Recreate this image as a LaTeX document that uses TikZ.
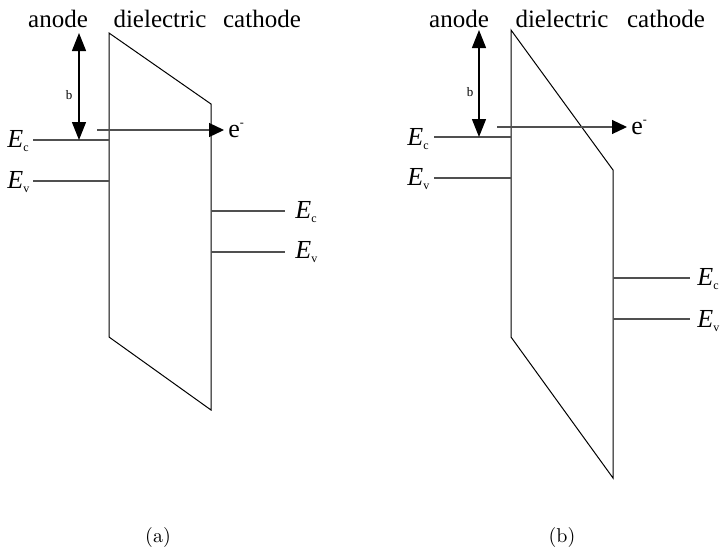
\documentclass[tikz,border=0pt]{standalone}
\usepackage{fontspec}
\usepackage{tikz}
\usetikzlibrary{arrows.meta,positioning}
\newfontfamily\timesfont{Liberation Serif}
\definecolor{levelgray}{RGB}{80,80,80}

\begin{document}
\begin{tikzpicture}[x=0.5pt, y=-0.5pt,
    head/.style={font=\timesfont\fontsize{12.5}{14}\selectfont, anchor=base},
    level/.style={line width=0.6pt, levelgray},
    band/.style={line width=0.5pt, black},
    elabel/.style={font=\timesfont\fontsize{13}{15}\selectfont, anchor=base west, inner sep=0pt},
    blabel/.style={font=\timesfont\fontsize{6.5}{7}\selectfont, inner sep=0pt},
    barrier/.style={{Triangle[length=9pt, width=7pt]}-{Triangle[length=9pt, width=7pt]}, line width=0.6pt},
    emit/.style={-{Triangle[length=7.5pt, width=7pt, color=black]}, line width=0.6pt, levelgray},
    caption/.style={font=\normalsize}
]
\useasboundingbox (0,0) rectangle (722,552);

% (a) weak field
\node[head] (anodeA) at (58,27) {anode};
\node[head] (dielA) at (160,27) {dielectric};
\node[head] (cathA) at (262,27) {cathode};

\draw[band] (109,33) coordinate (tlA) -- (211,104) coordinate (trA)
  -- (211,410) coordinate (brA) -- (109,337) coordinate (blA) -- cycle;

\coordinate (ecA) at (33,140);
\coordinate (evA) at (33,181);
\draw[level] (ecA) -- (109,140);
\draw[level] (evA) -- (109,181);
\node[elabel] (ecAl) at (7,147) {\textit{E}\raisebox{-0.35ex}{\fontsize{6}{7}\selectfont c}};
\node[elabel] (evAl) at (7,188) {\textit{E}\raisebox{-0.35ex}{\fontsize{6}{7}\selectfont v}};

\coordinate (ecAr) at (285,211);
\coordinate (evAr) at (285,252);
\draw[level] (211,211) -- (ecAr);
\draw[level] (211,252) -- (evAr);
\node[elabel] (ecArl) at (295,218) {\textit{E}\raisebox{-0.35ex}{\fontsize{6}{7}\selectfont c}};
\node[elabel] (evArl) at (295,258) {\textit{E}\raisebox{-0.35ex}{\fontsize{6}{7}\selectfont v}};

\coordinate (btopA) at (79,33);
\coordinate (bbotA) at (79,140);
\draw[barrier] (btopA) -- (bbotA);
\node[blabel] (bA) at (69,95) {b};

\coordinate (eStartA) at (97,130);
\node[elabel] (eA) at (228,137) {e\raisebox{0.9ex}{\fontsize{6}{7}\selectfont -}};
\draw[emit] (eStartA) -- ([xshift=-2pt]eA.west |- eStartA);

\node[caption] (capA) at (158,537) {(a)};

% (b) strong field
\node[head] (anodeB) at (459,27) {anode};
\node[head] (dielB) at (562,27) {dielectric};
\node[head] (cathB) at (666,27) {cathode};

\draw[band] (511,30) coordinate (tlB) -- (613,170) coordinate (trB)
  -- (613,478) coordinate (brB) -- (511,337) coordinate (blB) -- cycle;

\coordinate (ecB) at (434,137);
\coordinate (evB) at (434,178);
\draw[level] (ecB) -- (511,137);
\draw[level] (evB) -- (511,178);
\node[elabel] (ecBl) at (407,145) {\textit{E}\raisebox{-0.35ex}{\fontsize{6}{7}\selectfont c}};
\node[elabel] (evBl) at (407,185) {\textit{E}\raisebox{-0.35ex}{\fontsize{6}{7}\selectfont v}};

\coordinate (ecBr) at (690,278);
\coordinate (evBr) at (690,319);
\draw[level] (613,278) -- (ecBr);
\draw[level] (613,319) -- (evBr);
\node[elabel] (ecBrl) at (697,285) {\textit{E}\raisebox{-0.35ex}{\fontsize{6}{7}\selectfont c}};
\node[elabel] (evBrl) at (697,327) {\textit{E}\raisebox{-0.35ex}{\fontsize{6}{7}\selectfont v}};

\coordinate (btopB) at (479,30);
\coordinate (bbotB) at (479,137);
\draw[barrier] (btopB) -- (bbotB);
\node[blabel] (bB) at (470,92) {b};

\coordinate (eStartB) at (497,127);
\node[elabel] (eB) at (631,134) {e\raisebox{0.9ex}{\fontsize{6}{7}\selectfont -}};
\draw[emit] (eStartB) -- ([xshift=-2pt]eB.west |- eStartB);

\node[caption] (capB) at (562,537) {(b)};

\end{tikzpicture}
\end{document}
